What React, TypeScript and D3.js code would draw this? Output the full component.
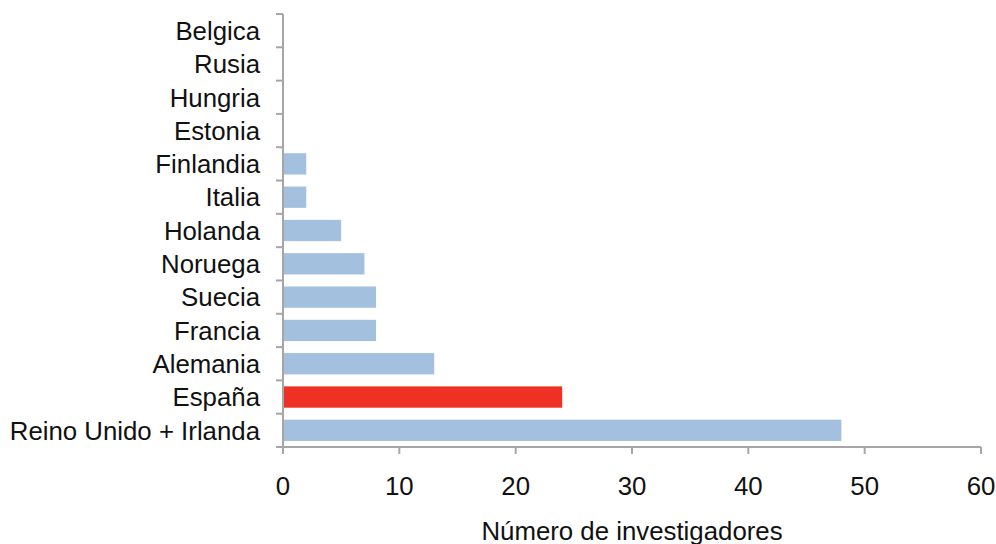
import React, { useEffect, useRef } from "react";
import * as d3 from "d3";

const countries = [
  "Belgica", "Rusia", "Hungria", "Estonia", "Finlandia", "Italia", "Holanda",
  "Noruega", "Suecia", "Francia", "Alemania", "España", "Reino Unido + Irlanda",
];
const researchers = [0, 0, 0, 0, 2, 2, 5, 7, 8, 8, 13, 24, 48];
const highlight = "España";
const xTicks = [0, 10, 20, 30, 40, 50, 60];
const xTitle = "Número de investigadores";

const App = () => {
  const svgRef = useRef<SVGSVGElement>(null);

  useEffect(() => {
    const svg = d3.select(svgRef.current);
    svg.selectAll("*").remove();

    const left = 283, right = 981, top = 14, bottom = 447;
    const axisColor = "#a6a6a6";
    const font = "'Liberation Sans', Arial, sans-serif";
    const fs = 25.8;

    const x = d3.scaleLinear().domain([0, 60]).range([left, right]);
    const y = d3.scaleBand().domain(countries).range([top, bottom]).paddingInner(0.36).paddingOuter(0.18);
    const band = d3.scaleBand().domain(countries).range([top, bottom]);

    const data = countries.map((c, i) => ({ c, v: researchers[i] }));

    svg.append("g")
      .selectAll("rect")
      .data(data)
      .join("rect")
      .attr("x", x(0))
      .attr("y", d => y(d.c)!)
      .attr("width", d => x(d.v) - x(0))
      .attr("height", y.bandwidth())
      .attr("fill", d => d.c === highlight ? "#ee3124" : "#a4c0df");

    // y axis line + ticks between categories
    const ya = svg.append("g").attr("stroke", axisColor).attr("stroke-width", 2);
    ya.append("line").attr("x1", left).attr("x2", left).attr("y1", top).attr("y2", bottom + 7);
    const bounds = countries.map(c => band(c)!).concat([bottom]);
    ya.selectAll(".yt")
      .data(bounds)
      .join("line")
      .attr("x1", left - 7)
      .attr("x2", left)
      .attr("y1", d => d)
      .attr("y2", d => d);

    // x axis
    const xa = svg.append("g").attr("stroke", axisColor).attr("stroke-width", 2);
    xa.append("line").attr("x1", left - 7).attr("x2", right).attr("y1", bottom).attr("y2", bottom);
    xa.selectAll(".xt")
      .data(xTicks)
      .join("line")
      .attr("x1", d => x(d))
      .attr("x2", d => x(d))
      .attr("y1", bottom)
      .attr("y2", bottom + 7);

    svg.append("g")
      .selectAll("text")
      .data(xTicks)
      .join("text")
      .attr("x", d => x(d))
      .attr("y", 495)
      .attr("text-anchor", "middle")
      .attr("font-family", font)
      .attr("font-size", fs)
      .attr("fill", "#111")
      .text(d => d);

    svg.append("g")
      .selectAll("text")
      .data(countries)
      .join("text")
      .attr("x", 260)
      .attr("y", d => band(d)! + band.bandwidth() / 2)
      .attr("dy", "0.36em")
      .attr("text-anchor", "end")
      .attr("font-family", font)
      .attr("font-size", fs)
      .attr("fill", "#111")
      .text(d => d);

    svg.append("text")
      .attr("x", 632)
      .attr("y", 540)
      .attr("text-anchor", "middle")
      .attr("font-family", font)
      .attr("font-size", fs)
      .attr("fill", "#111")
      .text(xTitle);
  }, []);

  return (
    <svg ref={svgRef} width={996} height={544}
      style={{ position: "absolute", left: 0, top: 0, background: "#fff" }} />
  );
};

export default App;
